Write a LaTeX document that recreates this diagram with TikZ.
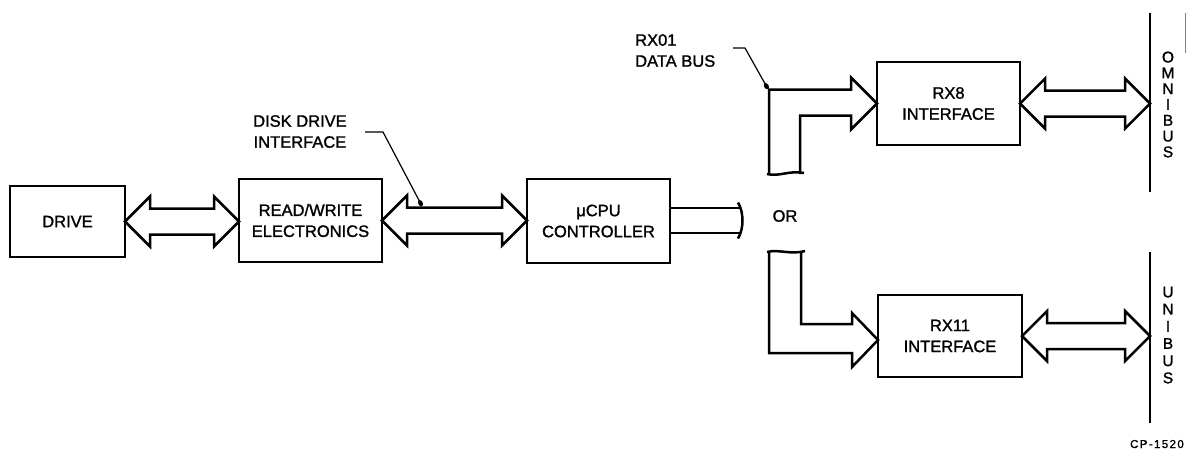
\documentclass[tikz,border=0pt]{standalone}
\usepackage{fontspec}
\setmainfont{Liberation Sans}
\newfontfamily\heavy{Liberation Sans}[FakeBold=1.4]
\usetikzlibrary{arrows.meta,calc}
\newcommand\labfont{\heavy\fontsize{16.5}{21}\selectfont}
\newcommand\omnifont{\heavy\fontsize{15.5}{15.8}\selectfont}
\newcommand\unifont{\heavy\fontsize{15.5}{17.2}\selectfont}
\newcommand\cpfont{\heavy\fontsize{11.5}{12}\selectfont\addfontfeatures{LetterSpace=12}}
% double-headed wide bus arrow between two points (same height as the first)
\newcommand{\dblbus}[2]{%
  \draw[bus] let \p1=(#1), \p2=(#2) in
    (\x1,\y1) -- (\x1+25pt,\y1+25pt) -- (\x1+25pt,\y1+13pt) -- (\x2-25pt,\y1+13pt)
    -- (\x2-25pt,\y1+25pt) -- (\x2,\y1) -- (\x2-25pt,\y1-25pt) -- (\x2-25pt,\y1-13pt)
    -- (\x1+25pt,\y1-13pt) -- (\x1+25pt,\y1-25pt) -- cycle;}
\begin{document}
\begin{tikzpicture}[x=1pt,y=-1pt,
  blk/.style={draw,line width=2.7pt,inner sep=0pt,outer sep=0pt,align=center,font=\labfont},
  bus/.style={draw,line width=2.5pt,line join=miter},
  busbar/.style={draw,line width=2.8pt},
  leader/.style={draw,line width=1.2pt,-{Circle[length=6.5pt,width=4.5pt]}},
  lab/.style={inner sep=0pt,align=center,font=\labfont}]
\useasboundingbox (0,0) rectangle (1186,451);

% blocks
\node[blk,minimum width=115pt,minimum height=71pt] (drive) at (67.5,221.5) {DRIVE};
\node[blk,minimum width=143pt,minimum height=83pt] (rw) at (310.5,220.5) {READ/WRITE\\ELECTRONICS};
\node[blk,minimum width=143pt,minimum height=84pt] (cpu) at (598.5,221) {μCPU\\CONTROLLER};
\node[blk,minimum width=143pt,minimum height=83pt] (rx8) at (948.5,103.5) {RX8\\INTERFACE};
\node[blk,minimum width=144pt,minimum height=82pt] (rx11) at (950,336) {RX11\\INTERFACE};

% bus bars
\coordinate (omt) at (1150,13);
\coordinate (omb) at (1150,192);
\coordinate (unt) at (1150,252);
\coordinate (unb) at (1150,423);
\draw[busbar] (omt) -- (omb);
\draw[busbar] (unt) -- (unb);
\node[lab,font=\omnifont] (omni) at (1168,104.5) {O\\M\\N\\I\\B\\U\\S};
\node[lab,font=\unifont] (uni) at (1168,335) {U\\N\\I\\B\\U\\S};
\draw[line width=0.8pt,gray] (1185,13) -- (1185,53);

% double arrows
\dblbus{drive.east}{rw.west}
\dblbus{rw.east}{cpu.west}
\dblbus{rx8.east}{omb |- rx8.east}
\dblbus{rx11.east}{unb |- rx11.east}

% bus stub out of the controller
\coordinate (cs) at (740,220.5);
\draw[bus] let \p1=(cpu.east), \p2=(cs) in
  (\x1,\y1+13pt) -- (\x2,\y1+13pt) (\x1,\y1-12pt) -- (\x2,\y1-12pt);
\draw[bus] ($(cs)+(-2,-18)$) .. controls ($(cs)+(4,-8)$) and ($(cs)+(4,8)$) .. ($(cs)+(-2,18)$);

% upper L-shaped bus to RX8
\coordinate (u1) at (769,174);
\coordinate (u2) at (800,174);
\draw[bus] let \p1=(rx8.west), \p2=(u1), \p3=(u2) in
  (\p2) -- (\x2,\y1+14pt) -- (\x1-26pt,\y1+14pt) -- (\x1-26pt,\y1+26pt) -- (\p1)
  -- (\x1-26pt,\y1-26pt) -- (\x1-26pt,\y1-12pt) -- (\x3,\y1-12pt) -- (\p3);
\draw[bus] ($(u1)+(-2,0)$) .. controls ($(u1)+(10,3)$) and ($(u2)+(-10,-4)$) .. ($(u2)+(4,-1)$);

% lower L-shaped bus to RX11
\coordinate (l1) at (769,252);
\coordinate (l2) at (801,252);
\draw[bus] let \p1=([yshift=-4pt]rx11.west), \p2=(l1), \p3=(l2) in
  (\p2) -- (\x2,\y1-13pt) -- (\x1-26pt,\y1-13pt) -- (\x1-26pt,\y1-27pt) -- (\p1)
  -- (\x1-26pt,\y1+27pt) -- (\x1-26pt,\y1+16pt) -- (\x3,\y1+16pt) -- (\p3);
\draw[bus] ($(l1)+(-2,0)$) .. controls ($(l1)+(10,-3)$) and ($(l2)+(-10,3)$) .. ($(l2)+(4,-1)$);

\node[lab] (or) at (785,216) {OR};

% labels with leaders
\node[lab,anchor=north west] (ddi) at (253,115) {DISK DRIVE\\INTERFACE};
\coordinate (d1) at (365,132);
\coordinate (d2) at (383,132);
\coordinate (d3) at (422,206);
\draw[leader] (d1) -- (d2) -- (d3);

\node[lab,align=left,anchor=north west] (rx01) at (635,34) {RX01\\DATA BUS};
\coordinate (r1) at (733,48);
\coordinate (r2) at (745,48);
\coordinate (r3) at (768,89);
\draw[leader] (r1) -- (r2) -- (r3);

\node[inner sep=0pt,anchor=base east,font=\cpfont] (cp) at (1184,448) {CP-1520};
\end{tikzpicture}
\end{document}
